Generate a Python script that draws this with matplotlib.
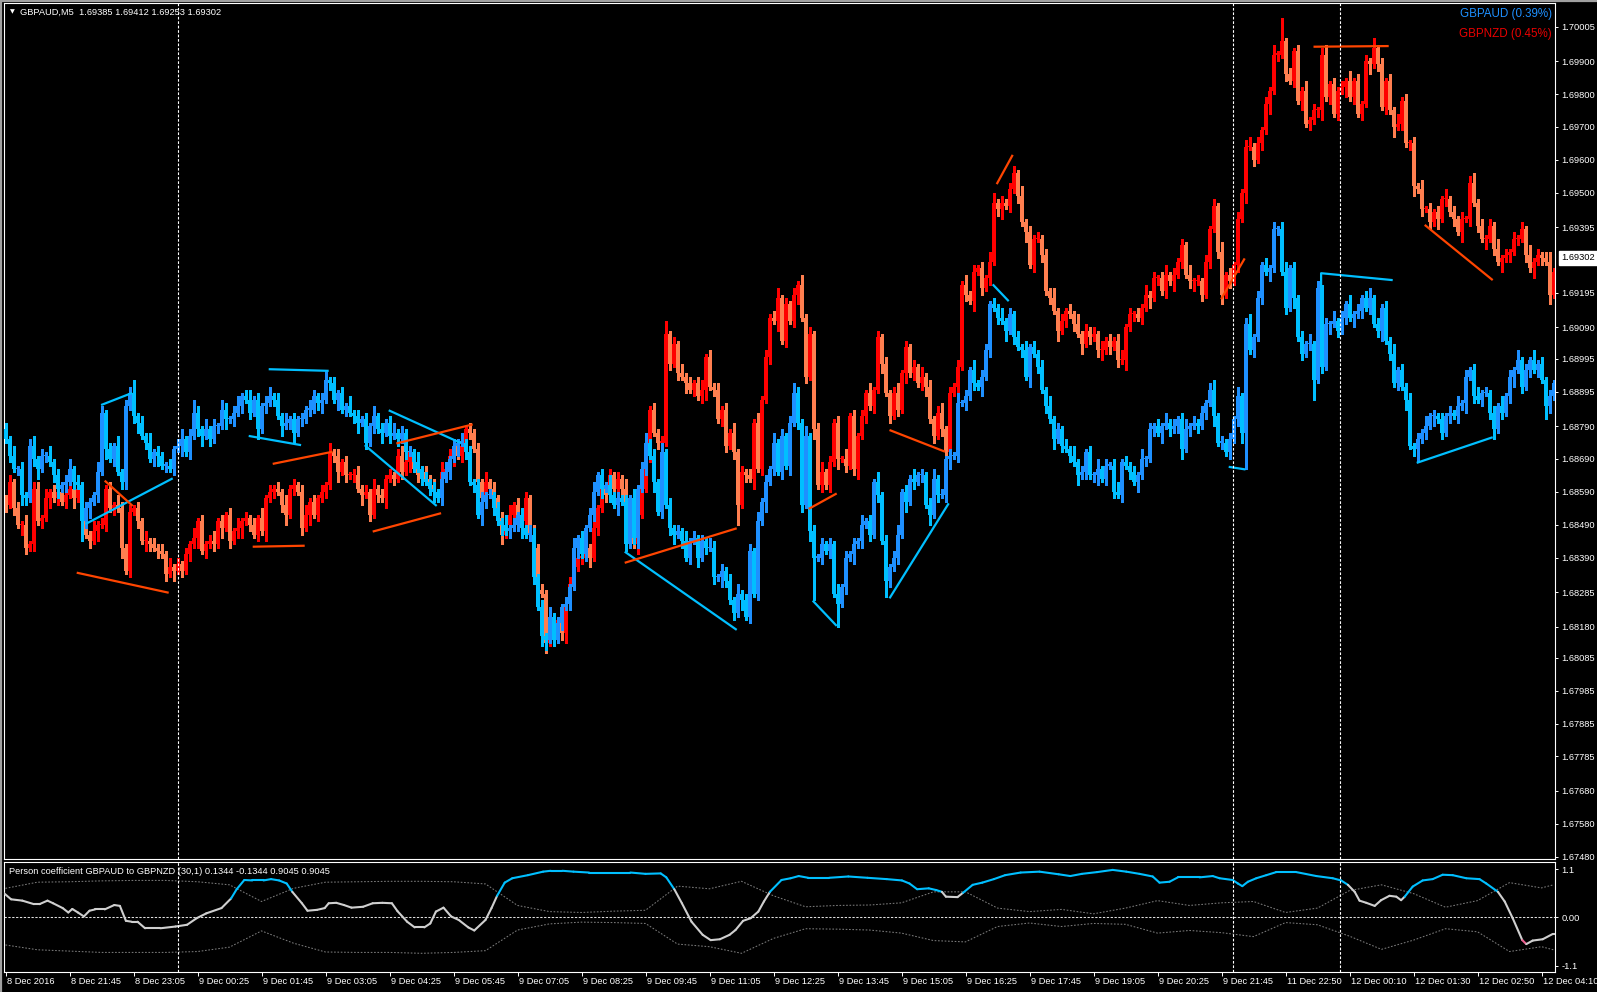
import numpy as np
import matplotlib
matplotlib.use("Agg")
import matplotlib.pyplot as plt
from matplotlib.collections import LineCollection
from matplotlib.transforms import blended_transform_factory

plt.rcParams['font.family'] = ['Liberation Sans', 'DejaVu Sans']

# ---------------- data (prices stored as pips above 1.6000) ----------------
BASE = 1.6
PIP = 0.0001

gbpaud_first_open = 878
gbpaud_close_pips = [
    875, 870, 866, 866, 858, 857, 873, 869, 866, 870,
    870, 868, 864, 860, 861, 862, 866, 862, 861, 850,
    854, 856, 858, 865, 883, 872, 869, 873, 865, 862,
    885, 889, 882, 880, 876, 874, 869, 871, 870, 867,
    867, 866, 872, 873, 875, 871, 876, 883, 878, 876,
    878, 875, 879, 879, 884, 881, 881, 883, 885, 888,
    887, 883, 887, 878, 885, 886, 888, 887, 882, 879,
    880, 881, 877, 881, 881, 884, 884, 888, 886, 887,
    893, 892, 887, 889, 884, 885, 883, 882, 880, 881,
    874, 879, 882, 878, 877, 880, 876, 877, 875, 877,
    871, 871, 868, 866, 863, 862, 860, 859, 857, 863,
    865, 869, 873, 874, 874, 871, 862, 861, 852, 856,
    858, 858, 854, 850, 849, 847, 848, 849, 852, 848,
    846, 846, 833, 824, 815, 814, 821, 814, 819, 824,
    825, 830, 842, 845, 840, 848, 852, 859, 864, 860,
    861, 858, 855, 857, 856, 843, 857, 845, 860, 866,
    874, 870, 862, 853, 871, 855, 848, 846, 847, 844,
    839, 844, 845, 839, 844, 842, 842, 833, 833, 835,
    832, 826, 822, 828, 826, 821, 841, 828, 850, 856,
    862, 866, 874, 865, 876, 867, 880, 889, 880, 855,
    876, 847, 839, 839, 843, 841, 843, 828, 825, 830,
    839, 840, 843, 844, 849, 850, 846, 862, 858, 844,
    832, 836, 839, 846, 859, 856, 863, 862, 864, 864,
    855, 852, 863, 858, 858, 869, 870, 870, 886, 886,
    888, 896, 892, 891, 894, 902, 916, 915, 912, 911,
    908, 913, 906, 903, 902, 894, 903, 901, 897, 890,
    885, 881, 875, 878, 873, 872, 870, 868, 864, 865,
    871, 864, 864, 866, 863, 867, 867, 859, 858, 868,
    867, 865, 862, 864, 869, 869, 878, 879, 877, 879,
    880, 878, 879, 881, 872, 878, 879, 880, 879, 883,
    886, 890, 882, 874, 874, 871, 875, 881, 888, 877,
    910, 902, 906, 918, 928, 926, 927, 939, 939, 926,
    915, 927, 918, 906, 901, 904, 904, 893, 921, 897,
    910, 910, 911, 908, 912, 916, 912, 913, 914, 918,
    915, 918, 910, 908, 915, 905, 901, 892, 896, 891,
    887, 873, 872, 875, 877, 879, 882, 882, 881, 877,
    882, 883, 882, 885, 886, 894, 896, 888, 887, 889,
    889, 883, 878, 885, 883, 888, 894, 896, 899, 891,
    896, 899, 896, 898, 893, 885, 888, 892,
]
gbpaud_upper_wick = [
    2, 1, 3, 1, 2, 1, 2, 3, 1, 2, 1, 3, 1, 2, 1, 2, 3, 1, 2, 1,
    2, 1, 1, 3, 2, 1, 2, 1, 3, 1, 2, 2, 4, 1, 2, 1, 3, 1, 2, 1,
    1, 2, 1, 2, 3, 1, 2, 4, 2, 1, 3, 1, 2, 1, 3, 2, 1, 2, 3, 1,
    2, 3, 1, 2, 1, 2, 3, 1, 2, 1, 3, 1, 2, 1, 2, 1, 3, 2, 1, 2,
    3, 1, 2, 1, 2, 1, 3, 1, 2, 1, 2, 1, 3, 1, 2, 1, 2, 3, 1, 2,
    1, 2, 1, 3, 1, 2, 1, 2, 1, 2, 3, 1, 2, 1, 3, 1, 2, 1, 2, 3,
    1, 2, 1, 2, 1, 3, 1, 2, 1, 2, 1, 3, 2, 1, 2, 1, 3, 1, 2, 1,
    2, 1, 3, 1, 2, 1, 2, 3, 1, 2, 1, 3, 1, 2, 1, 2, 1, 3, 1, 2,
    3, 1, 2, 1, 3, 1, 2, 1, 2, 1, 3, 1, 2, 1, 2, 1, 3, 2, 1, 2,
    1, 2, 1, 3, 1, 2, 2, 1, 3, 1, 2, 1, 3, 1, 2, 1, 2, 3, 2, 1,
    3, 1, 2, 1, 2, 1, 2, 1, 3, 1, 2, 1, 2, 1, 3, 1, 2, 1, 3, 1,
    2, 1, 2, 3, 1, 2, 1, 3, 1, 2, 1, 2, 3, 1, 2, 1, 2, 1, 3, 1,
    2, 1, 3, 1, 2, 2, 1, 2, 1, 3, 1, 2, 1, 2, 1, 3, 1, 2, 1, 2,
    1, 3, 1, 2, 1, 2, 1, 3, 1, 2, 1, 2, 1, 3, 1, 2, 1, 2, 3, 1,
    2, 1, 2, 1, 3, 1, 2, 1, 2, 1, 3, 1, 2, 1, 2, 3, 1, 2, 1, 2,
    1, 2, 3, 1, 2, 1, 2, 1, 3, 1, 2, 3, 1, 2, 1, 2, 1, 2, 1, 2,
    3, 1, 2, 1, 2, 1, 3, 1, 2, 1, 2, 1, 3, 1, 2, 1, 3, 1, 2, 1,
    2, 3, 1, 2, 1, 2, 1, 3, 1, 2, 1, 2, 1, 2, 1, 3, 1, 2, 1, 2,
    1, 2, 1, 3, 1, 2, 1, 2, 3, 1, 2, 1, 2, 1, 3, 1, 2, 1, 3, 1,
    2, 1, 3, 1, 2, 1, 2, 1,
]
gbpaud_lower_wick = [
    1, 2, 1, 2, 3, 2, 1, 2, 3, 1, 2, 1, 2, 3, 1, 2, 1, 2, 1, 6,
    2, 3, 1, 2, 1, 3, 1, 2, 1, 2, 2, 1, 2, 3, 1, 2, 1, 2, 3, 1,
    2, 1, 2, 1, 3, 1, 2, 1, 2, 3, 1, 2, 1, 2, 1, 3, 1, 2, 1, 2,
    1, 2, 1, 3, 1, 2, 1, 2, 1, 3, 1, 2, 3, 1, 2, 1, 2, 1, 2, 3,
    1, 2, 1, 3, 1, 2, 1, 2, 3, 1, 2, 1, 2, 1, 3, 1, 2, 1, 2, 1,
    2, 1, 3, 1, 2, 1, 2, 3, 1, 2, 1, 2, 1, 3, 1, 2, 1, 2, 1, 3,
    2, 1, 2, 1, 3, 1, 2, 1, 2, 3, 1, 2, 2, 1, 3, 3, 1, 2, 1, 2,
    1, 2, 1, 3, 1, 2, 1, 2, 1, 3, 1, 2, 1, 3, 1, 2, 1, 2, 3, 1,
    2, 1, 3, 1, 2, 1, 2, 3, 1, 2, 1, 2, 1, 3, 1, 2, 1, 2, 1, 3,
    2, 1, 2, 1, 3, 1, 2, 1, 2, 1, 3, 1, 2, 1, 2, 1, 3, 1, 2, 2,
    1, 3, 13, 1, 2, 1, 2, 1, 7, 1, 2, 1, 3, 1, 2, 1, 2, 1, 2, 1,
    5, 2, 1, 2, 1, 3, 1, 2, 1, 2, 1, 3, 1, 2, 1, 2, 3, 1, 2, 1,
    2, 1, 2, 1, 3, 1, 2, 1, 2, 1, 3, 1, 2, 1, 2, 1, 3, 1, 2, 1,
    2, 1, 3, 1, 2, 1, 2, 1, 3, 1, 2, 1, 2, 3, 1, 2, 1, 2, 1, 2,
    1, 2, 1, 3, 1, 2, 1, 2, 1, 3, 1, 2, 1, 2, 3, 1, 2, 1, 2, 1,
    2, 1, 3, 1, 2, 1, 2, 1, 2, 3, 11, 1, 2, 1, 2, 1, 3, 1, 2, 1,
    2, 1, 3, 1, 2, 1, 2, 6, 1, 2, 1, 3, 1, 2, 1, 2, 1, 3, 1, 2,
    1, 2, 1, 2, 3, 1, 2, 1, 2, 1, 3, 1, 2, 4, 1, 2, 1, 3, 1, 2,
    1, 2, 1, 2, 1, 3, 1, 2, 1, 2, 1, 2, 3, 1, 2, 1, 2, 3, 1, 2,
    1, 2, 1, 2, 1, 4, 2, 1,
]

gbpnzd_first_open = 857
gbpnzd_close_pips = [
    855, 862, 854, 849, 849, 842, 843, 860, 850, 851,
    857, 859, 857, 859, 856, 858, 860, 857, 860, 850,
    846, 844, 847, 849, 849, 860, 854, 855, 854, 842,
    835, 853, 854, 850, 844, 844, 843, 842, 841, 840,
    834, 836, 835, 837, 835, 840, 843, 845, 850, 841,
    843, 844, 843, 850, 848, 852, 844, 847, 848, 850,
    851, 849, 846, 851, 847, 857, 859, 860, 859, 855,
    852, 860, 861, 859, 848, 852, 856, 852, 857, 859,
    861, 871, 870, 865, 868, 864, 864, 864, 860, 858,
    859, 852, 860, 858, 857, 863, 864, 863, 870, 865,
    868, 871, 866, 864, 865, 863, 861, 859, 857, 865,
    866, 870, 873, 870, 873, 878, 877, 872, 862, 857,
    862, 860, 857, 851, 846, 849, 852, 855, 850, 850,
    857, 846, 842, 829, 828, 813, 819, 816, 820, 816,
    825, 831, 836, 839, 839, 842, 839, 848, 854, 860,
    858, 864, 860, 863, 860, 855, 846, 843, 852, 860,
    870, 884, 877, 874, 874, 907, 898, 904, 895, 894,
    892, 890, 892, 888, 890, 900, 891, 890, 881, 884,
    873, 877, 871, 855, 865, 864, 863, 880, 866, 887,
    900, 912, 911, 918, 905, 916, 911, 919, 922, 912,
    894, 907, 878, 861, 865, 861, 868, 880, 869, 869,
    867, 882, 866, 876, 882, 889, 885, 890, 906, 898,
    889, 882, 889, 884, 895, 903, 895, 897, 892, 894,
    891, 881, 876, 883, 878, 871, 889, 891, 897, 922,
    919, 917, 926, 927, 921, 924, 929, 947, 945, 947,
    946, 951, 956, 949, 941, 938, 928, 936, 936, 931,
    920, 918, 914, 908, 911, 914, 913, 910, 907, 904,
    908, 906, 907, 902, 902, 905, 903, 905, 899, 899,
    909, 913, 913, 912, 915, 919, 918, 924, 924, 920,
    925, 923, 925, 929, 934, 925, 923, 923, 923, 919,
    929, 939, 946, 932, 919, 925, 923, 928, 942, 950,
    964, 964, 960, 965, 969, 977, 981, 992, 992, 996,
    986, 984, 993, 978, 981, 971, 972, 975, 975, 992,
    979, 983, 974, 981, 982, 984, 979, 984, 974, 977,
    990, 989, 994, 989, 976, 984, 975, 970, 971, 978,
    965, 965, 952, 951, 945, 945, 941, 944, 942, 948,
    948, 944, 942, 938, 942, 942, 953, 947, 940, 936,
    936, 940, 933, 929, 930, 931, 932, 936, 936, 939,
    931, 927, 929, 931, 930, 929, 919, 926,
]
gbpnzd_upper_wick = [
    1, 2, 1, 2, 1, 3, 1, 2, 2, 1, 3, 1, 2, 1, 2, 1, 3, 1, 2, 1,
    2, 1, 3, 1, 2, 1, 2, 1, 3, 2, 1, 2, 1, 2, 1, 3, 1, 2, 1, 2,
    1, 3, 1, 2, 1, 2, 1, 3, 1, 2, 1, 2, 3, 1, 2, 1, 2, 1, 3, 1,
    2, 1, 2, 1, 3, 1, 2, 1, 2, 1, 3, 1, 2, 1, 2, 3, 1, 2, 1, 2,
    1, 3, 1, 2, 1, 2, 1, 2, 3, 1, 2, 1, 3, 1, 2, 1, 2, 1, 2, 3,
    1, 2, 1, 3, 1, 2, 1, 2, 1, 3, 1, 2, 1, 2, 3, 1, 2, 1, 2, 1,
    3, 1, 2, 1, 2, 1, 3, 1, 2, 1, 2, 1, 3, 1, 2, 1, 2, 3, 1, 2,
    1, 2, 1, 3, 1, 2, 1, 2, 1, 3, 1, 2, 1, 2, 1, 3, 1, 2, 1, 2,
    3, 1, 2, 1, 2, 4, 1, 2, 1, 3, 1, 2, 1, 2, 3, 1, 2, 1, 2, 1,
    2, 1, 3, 1, 2, 1, 2, 1, 3, 1, 2, 1, 2, 3, 1, 2, 1, 2, 1, 3,
    1, 2, 1, 2, 3, 1, 2, 1, 2, 1, 3, 1, 2, 1, 2, 1, 3, 1, 2, 1,
    2, 1, 2, 3, 1, 2, 1, 2, 1, 3, 1, 2, 1, 2, 3, 1, 2, 1, 2, 1,
    3, 1, 2, 1, 2, 1, 3, 3, 1, 2, 1, 2, 2, 1, 3, 1, 2, 1, 2, 1,
    2, 1, 3, 1, 2, 1, 2, 1, 3, 1, 2, 1, 2, 1, 3, 1, 2, 1, 2, 3,
    1, 2, 1, 2, 1, 3, 1, 2, 1, 2, 3, 1, 2, 1, 2, 1, 3, 1, 2, 1,
    2, 1, 2, 1, 3, 1, 2, 1, 2, 1, 2, 3, 1, 2, 1, 2, 1, 3, 1, 7,
    1, 2, 1, 2, 1, 3, 1, 2, 1, 2, 3, 1, 2, 1, 2, 1, 3, 1, 2, 1,
    2, 1, 3, 1, 2, 1, 2, 1, 3, 1, 2, 1, 2, 1, 3, 1, 2, 1, 2, 1,
    3, 1, 2, 1, 2, 1, 2, 3, 1, 2, 1, 2, 1, 3, 1, 2, 1, 2, 1, 2,
    1, 3, 1, 2, 1, 2, 3, 1,
]
gbpnzd_lower_wick = [
    2, 1, 2, 1, 3, 2, 1, 2, 1, 2, 1, 3, 1, 2, 1, 2, 1, 3, 1, 2,
    1, 2, 1, 3, 1, 2, 1, 2, 1, 3, 1, 2, 1, 2, 1, 3, 2, 1, 2, 1,
    2, 1, 3, 1, 2, 1, 2, 1, 3, 1, 2, 1, 2, 1, 3, 1, 2, 1, 2, 3,
    1, 2, 1, 2, 1, 3, 1, 2, 1, 2, 3, 1, 2, 1, 2, 1, 3, 1, 2, 1,
    2, 1, 2, 3, 1, 2, 1, 2, 1, 3, 1, 2, 1, 2, 1, 3, 1, 2, 1, 2,
    1, 3, 1, 2, 1, 2, 1, 3, 1, 2, 1, 2, 3, 1, 2, 1, 2, 1, 3, 1,
    2, 1, 2, 1, 3, 1, 2, 1, 2, 3, 1, 2, 1, 2, 1, 3, 1, 2, 1, 2,
    3, 1, 2, 1, 2, 1, 3, 1, 2, 1, 2, 1, 3, 1, 2, 1, 2, 1, 3, 1,
    1, 2, 1, 2, 3, 1, 2, 1, 2, 1, 3, 1, 2, 1, 2, 3, 1, 2, 1, 2,
    2, 1, 2, 6, 1, 2, 1, 3, 1, 2, 1, 2, 1, 3, 1, 2, 1, 2, 3, 1,
    2, 1, 3, 1, 2, 1, 2, 1, 3, 1, 2, 1, 2, 3, 1, 2, 1, 2, 1, 3,
    1, 2, 1, 2, 1, 3, 1, 2, 1, 2, 3, 1, 2, 1, 2, 1, 3, 1, 2, 1,
    2, 1, 3, 1, 2, 1, 2, 1, 2, 3, 1, 2, 1, 2, 1, 3, 1, 2, 1, 2,
    1, 2, 1, 3, 1, 2, 1, 2, 1, 3, 1, 2, 1, 2, 3, 1, 2, 1, 2, 1,
    3, 1, 2, 1, 2, 1, 3, 1, 2, 1, 2, 1, 3, 1, 2, 1, 2, 3, 1, 2,
    1, 2, 1, 2, 3, 1, 2, 1, 2, 1, 3, 1, 2, 1, 2, 1, 3, 1, 2, 1,
    2, 1, 2, 1, 3, 1, 2, 1, 2, 3, 1, 2, 1, 2, 1, 3, 1, 2, 1, 2,
    1, 3, 1, 2, 1, 2, 1, 3, 1, 2, 1, 2, 3, 1, 2, 1, 2, 1, 3, 1,
    2, 1, 2, 1, 3, 1, 2, 1, 2, 1, 3, 1, 2, 1, 3, 1, 2, 1, 2, 1,
    2, 1, 3, 1, 2, 1, 3, 1,
]

# drawn trend lines: polylines of (bar, pips)
cyan_trend_lines = [
    [(20.0, 849.2), (41.8, 863.1)],
    [(23.9, 885.4), (31.7, 889.1)],
    [(60.8, 876.0), (73.9, 873.2)],
    [(65.8, 896.3), (80.8, 895.8)],
    [(89.8, 873.2), (107.8, 854.7)],
    [(95.8, 883.8), (113.9, 873.8)],
    [(154.8, 840.8), (182.8, 817.0)],
    [(201.8, 825.9), (207.8, 818.2)],
    [(221.0, 826.6), (235.8, 855.5)],
    [(246.8, 922.1), (250.8, 917.0)],
    [(305.8, 866.6), (310.0, 865.8)],
    [(328.9, 920.9), (328.9, 925.5), (346.8, 923.4)],
    [(352.8, 867.8), (371.8, 875.6)],
]
orange_trend_lines = [
    [(17.8, 834.4), (40.8, 828.3)],
    [(24.8, 862.4), (31.8, 854.7)],
    [(66.8, 867.5), (81.8, 871.2)],
    [(61.8, 842.3), (74.8, 842.6)],
    [(91.8, 846.9), (108.9, 852.5)],
    [(97.7, 873.7), (116.8, 879.5)],
    [(154.8, 837.4), (182.8, 847.9)],
    [(200.8, 853.8), (207.8, 858.5)],
    [(221.0, 877.8), (234.9, 871.2)],
    [(247.8, 952.6), (251.8, 961.5)],
    [(303.9, 917.6), (309.8, 930.0)],
    [(327.0, 994.4), (345.8, 994.6)],
    [(354.8, 940.2), (371.8, 923.4)],
]

vline_bars = [43.0, 306.75, 333.5]
current_price = 1.69302

price_ticks = [1.70005, 1.69900, 1.69800, 1.69700, 1.69600, 1.69500, 1.69395,
               1.69195, 1.69090, 1.68995, 1.68895, 1.68790, 1.68690, 1.68590,
               1.68490, 1.68390, 1.68285, 1.68180, 1.68085, 1.67985, 1.67885,
               1.67785, 1.67680, 1.67580, 1.67480]

time_labels = ["8 Dec 2016", "8 Dec 21:45", "8 Dec 23:05", "9 Dec 00:25",
               "9 Dec 01:45", "9 Dec 03:05", "9 Dec 04:25", "9 Dec 05:45",
               "9 Dec 07:05", "9 Dec 08:25", "9 Dec 09:45", "9 Dec 11:05",
               "9 Dec 12:25", "9 Dec 13:45", "9 Dec 15:05", "9 Dec 16:25",
               "9 Dec 17:45", "9 Dec 19:05", "9 Dec 20:25", "9 Dec 21:45",
               "11 Dec 22:50", "12 Dec 00:10", "12 Dec 01:30", "12 Dec 02:50",
               "12 Dec 04:10"]
time_label_bars = [16 * k for k in range(len(time_labels))]

# Pearson coefficient line
corr_bars = [-0.4, 1.4, 4.2, 7.1, 8.5, 10.5, 11.9, 14.3, 15.7, 16.7, 18.1, 19.6,
             21.0, 22.4, 24.8, 27.2, 28.6, 30.1, 31.5, 33.0, 34.9, 38.7, 42.5,
             45.4, 47.8, 50.2, 54.0, 56.4, 57.8, 59.7, 61.7, 64.5, 66.4, 68.4,
             70.3, 71.7, 74.1, 75.5, 77.9, 79.8, 80.8, 82.7, 84.6, 86.5, 89.4,
             91.8, 94.2, 96.6, 98.0, 100.4, 102.3, 104.7, 106.2, 107.6, 109.5,
             111.4, 113.3, 115.7, 117.2, 120.0, 121.5, 122.9, 124.8, 126.7,
             130.6, 134.4, 136.3, 139.2, 142.0, 145.9, 148.5, 156.2, 160.0,
             163.8, 165.2, 167.2, 169.1, 171.5, 174.3, 176.3, 178.6, 181.0,
             182.5, 184.4, 186.3, 188.2, 189.6, 191.1, 194.0, 196.3, 198.3,
             200.7, 205.9, 210.7, 215.5, 220.3, 224.1, 226.0, 227.9, 230.8,
             232.7, 234.1, 235.1, 238.0, 239.4, 241.8, 244.2, 247.1, 249.9,
             253.8, 258.5, 263.3, 266.2, 269.1, 272.9, 276.8, 280.2, 283.5,
             286.8, 288.5, 291.0, 293.1, 298.5, 301.8, 303.5, 306.8, 308.1,
             309.2, 310.6, 312.7, 315.2, 317.7, 322.7, 327.7, 331.8, 333.9,
             335.6, 337.3, 338.5, 340.2, 342.3, 343.9, 346.0, 347.7, 348.9,
             349.8, 351.8, 354.3, 356.8, 359.3, 361.8, 365.2, 368.5, 370.2,
             373.1, 374.8, 376.8, 379.2, 380.2, 381.8, 384.3, 386.8, 387.3]
corr_values = [0.55, 0.41, 0.38, 0.30, 0.30, 0.38, 0.32, 0.21, 0.11, 0.19, 0.11,
               0.02, 0.15, 0.18, 0.18, 0.28, 0.26, -0.08, -0.10, -0.10, -0.25,
               -0.25, -0.21, -0.17, -0.02, 0.09, 0.21, 0.43, 0.64, 0.85, 0.84,
               0.84, 0.87, 0.84, 0.77, 0.58, 0.32, 0.15, 0.17, 0.21, 0.32, 0.33,
               0.28, 0.22, 0.24, 0.32, 0.33, 0.32, 0.14, -0.10, -0.23, -0.23,
               -0.14, 0.13, 0.22, 0.02, -0.06, -0.23, -0.30, -0.06, 0.21, 0.49,
               0.79, 0.89, 0.96, 1.04, 1.06, 1.06, 1.04, 1.02, 1.02, 1.02, 0.99,
               1.00, 0.91, 0.64, 0.32, -0.10, -0.40, -0.52, -0.50, -0.40, -0.29,
               -0.08, -0.02, 0.13, 0.36, 0.58, 0.85, 0.89, 0.94, 0.90, 0.90,
               0.93, 0.90, 0.87, 0.84, 0.77, 0.64, 0.66, 0.62, 0.58, 0.47, 0.46,
               0.56, 0.74, 0.79, 0.87, 0.96, 1.02, 1.04, 0.98, 0.94, 0.99, 1.03,
               1.08, 1.04, 0.99, 0.93, 0.79, 0.81, 0.91, 0.91, 0.94, 0.89, 0.85,
               0.77, 0.71, 0.81, 0.89, 0.96, 1.03, 1.03, 0.94, 0.89, 0.84, 0.74,
               0.58, 0.38, 0.33, 0.26, 0.39, 0.49, 0.47, 0.39, 0.47, 0.70, 0.84,
               0.87, 0.97, 0.96, 0.89, 0.87, 0.77, 0.58, 0.36, -0.02, -0.52,
               -0.61, -0.53, -0.50, -0.38, -0.38]
corr_blue_zones = [(56.4, 71.0), (122.3, 166.8), (190.8, 234.4),
                   (239.2, 336.2), (349.6, 372.8)]
corr_pink_zones = [(378.6, 380.4)]

band_bars = [0, 8, 16, 24, 32, 40, 48, 56, 64, 72, 80, 88, 96, 104, 112, 120,
             128, 136, 144, 152, 160, 168, 176, 184, 192, 200, 208, 216, 224,
             232, 240, 248, 256, 264, 272, 280, 288, 296, 304, 312, 320, 328,
             336, 344, 352, 360, 368, 376, 384, 387]
band_upper = [0.66, 0.80, 0.81, 0.83, 0.84, 0.84, 0.81, 0.74, 0.36, 0.66,
              0.80, 0.81, 0.82, 0.82, 0.81, 0.76, 0.27, 0.13, 0.11, 0.14,
              0.16, 0.71, 0.65, 0.82, 0.49, 0.24, 0.27, 0.28, 0.33, 0.58,
              0.58, 0.21, 0.13, 0.18, 0.08, 0.21, 0.38, 0.27, 0.33, 0.36,
              0.11, 0.21, 0.61, 0.74, 0.54, 0.23, 0.38, 0.79, 0.67, 0.74]
band_lower = [-0.63, -0.74, -0.77, -0.80, -0.80, -0.80, -0.78, -0.68, -0.31, -0.59,
              -0.79, -0.80, -0.80, -0.82, -0.80, -0.76, -0.29, -0.15, -0.11, -0.12,
              -0.14, -0.61, -0.67, -0.82, -0.48, -0.26, -0.27, -0.29, -0.36, -0.53,
              -0.56, -0.21, -0.13, -0.21, -0.14, -0.16, -0.36, -0.30, -0.35, -0.44,
              -0.12, -0.17, -0.43, -0.73, -0.52, -0.26, -0.33, -0.78, -0.67, -0.74]

# ---------------- styles ----------------
AUD_UP, AUD_DN = '#1E90FF', '#00BFFF'
NZD_UP, NZD_DN = '#FF0000', '#FF7F50'
CYAN_LINE, ORANGE_LINE = '#00BFFF', '#FF4500'
FS = 6.7

W, H, DPI = 1597, 992, 100
fig = plt.figure(figsize=(W / DPI, H / DPI), dpi=DPI, facecolor='black')


def rect(l, t, r, b):
    return [l / W, 1 - b / H, (r - l) / W, (b - t) / H]


ax = fig.add_axes(rect(4, 3, 1555, 859))
ax2 = fig.add_axes(rect(4, 862, 1555, 972))
for a in (ax, ax2):
    a.set_facecolor('black')
    for s in a.spines.values():
        s.set_color('white')
        s.set_linewidth(0.8)

# window frame
fig.add_artist(plt.Line2D([0.6 / W, 0.6 / W], [0, 1], color='#A0A0A0', lw=1.6))
fig.add_artist(plt.Line2D([0, 1], [1 - 0.6 / H, 1 - 0.6 / H], color='#A0A0A0', lw=1.6))


def to_price(v):
    return BASE + np.asarray(v, dtype=float) * PIP


def draw_candles(axis, closes, first_open, upw, loww, up_c, dn_c, z):
    assert len(closes) == len(upw) == len(loww), (len(closes), len(upw), len(loww))
    c = to_price(closes)
    o = np.concatenate([[to_price(first_open)], c[:-1]])
    hi = np.maximum(o, c) + np.asarray(upw) * PIP
    lo = np.minimum(o, c) - np.asarray(loww) * PIP
    x = np.arange(len(c))
    cols = np.where(c >= o, up_c, dn_c)
    axis.vlines(x, lo, hi, colors=cols, lw=0.8, antialiased=False, zorder=z)
    body = np.maximum(np.abs(c - o), 0.35 * PIP)
    axis.bar(x, body, bottom=np.minimum(o, c), width=0.75, color=cols,
             linewidth=0, antialiased=False, zorder=z)


draw_candles(ax, gbpnzd_close_pips, gbpnzd_first_open, gbpnzd_upper_wick,
             gbpnzd_lower_wick, NZD_UP, NZD_DN, 2)
draw_candles(ax, gbpaud_close_pips, gbpaud_first_open, gbpaud_upper_wick,
             gbpaud_lower_wick, AUD_UP, AUD_DN, 3)

for lines, col in ((cyan_trend_lines, CYAN_LINE), (orange_trend_lines, ORANGE_LINE)):
    for pl in lines:
        xs = [p[0] for p in pl]
        ys = to_price([p[1] for p in pl])
        ax.plot(xs, ys, color=col, lw=1.6, solid_capstyle='butt', zorder=4)

XMIN = -0.375
XMAX = XMIN + 1551 / 4.0
ax.set_xlim(XMIN, XMAX)
ax.set_ylim(1.67473, 1.70077)
ax.set_xticks([])
ax.yaxis.tick_right()
ax.set_yticks(price_ticks)
ax.set_yticklabels([f"{v:.5f}" for v in price_ticks])
ax.tick_params(axis='y', colors='white', labelsize=FS, length=2.2, width=0.7, pad=2.4)

for vb in vline_bars:
    for a in (ax, ax2):
        a.axvline(vb, color='white', lw=0.8, dashes=(2.4, 1.6), zorder=5)

# current price marker
tr = blended_transform_factory(ax.transAxes, ax.transData)
ax.text(1 + 6.5 / 1551, current_price, f"{current_price:.5f}", transform=tr,
        ha='left', va='center', fontsize=FS, color='black', clip_on=False,
        bbox=dict(boxstyle='square,pad=0.25', facecolor='white', edgecolor='white'))

# header and legend
ax.text(6 / 1551, 1 - 9.2 / 856, "\u25BC", transform=ax.transAxes, fontsize=4.5,
        color='white', ha='left', va='center', family=['DejaVu Sans'])
ax.text(16 / 1551, 1 - 9.0 / 856, "GBPAUD,M5  1.69385 1.69412 1.69253 1.69302",
        transform=ax.transAxes, fontsize=FS, color='white', ha='left', va='center')
ax.text(1 - 3 / 1551, 1 - 11 / 856, "GBPAUD (0.39%)", transform=ax.transAxes,
        fontsize=8.4, color='#1E90FF', ha='right', va='center')
ax.text(1 - 3 / 1551, 1 - 31 / 856, "GBPNZD (0.45%)", transform=ax.transAxes,
        fontsize=8.4, color='#E80000', ha='right', va='center')

# ---------------- Pearson sub panel ----------------
ax2.plot(band_bars, band_upper, color='#7A7A7A', lw=0.75, dashes=(1.6, 1.6), zorder=2)
ax2.plot(band_bars, band_lower, color='#7A7A7A', lw=0.75, dashes=(1.6, 1.6), zorder=2)
ax2.axhline(0, color='#E0E0E0', lw=0.75, dashes=(2.2, 1.5), zorder=2)


def in_zones(v, zones):
    return any(a <= v <= b for a, b in zones)


pts = np.column_stack([corr_bars, corr_values])
segs, cols = [], []
for i in range(len(pts) - 1):
    m = 0.5 * (pts[i, 0] + pts[i + 1, 0])
    segs.append([pts[i], pts[i + 1]])
    if in_zones(m, corr_blue_zones):
        cols.append('#00BFFF')
    elif in_zones(m, corr_pink_zones):
        cols.append('#F06292')
    else:
        cols.append('#CFCFCF')
ax2.add_collection(LineCollection(segs, colors=cols, linewidths=1.5,
                                  capstyle='round', zorder=3))

ax2.set_xlim(XMIN, XMAX)
ax2.set_ylim(-1.246, 1.26)
ax2.yaxis.tick_right()
ax2.set_yticks([1.1, 0.0, -1.1])
ax2.set_yticklabels(["1.1", "0.00", "-1.1"])
ax2.tick_params(axis='y', colors='white', labelsize=FS, length=2.2, width=0.7, pad=2.4)
ax2.set_xticks(time_label_bars)
ax2.set_xticklabels([])
ax2.tick_params(axis='x', colors='white', length=3, width=0.7, direction='out')
trx = blended_transform_factory(ax2.transData, ax2.transAxes)
for b, lab in zip(time_label_bars, time_labels):
    ax2.text(b + 0.35, -0.088, lab, transform=trx, fontsize=FS, color='white',
             ha='left', va='center', clip_on=False)

ax2.text(5 / 1551, 1 - 10 / 110,
         "Person coefficient GBPAUD to GBPNZD (30,1) 0.1344 -0.1344 0.9045 0.9045",
         transform=ax2.transAxes, fontsize=FS, color='white', ha='left', va='center')

fig.savefig("out.png", dpi=DPI, facecolor='black')
